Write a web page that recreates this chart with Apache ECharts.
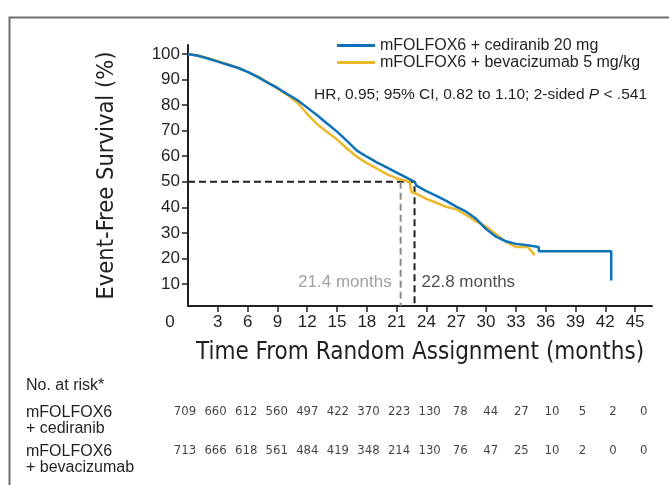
<!DOCTYPE html>
<html>
<head>
<meta charset="utf-8">
<script src="https://cdn.jsdelivr.net/npm/echarts@6/dist/echarts.min.js"></script>
<style>
html, body { margin: 0; padding: 0; background: #fff; }
#main { width: 669px; height: 485px; }
</style>
</head>
<body>
<div id="main"></div>
<script>
// 刻度
const xTicks = [3, 6, 9, 12, 15, 18, 21, 24, 27, 30, 33, 36, 39, 42, 45]
const yTicks = [10, 20, 30, 40, 50, 60, 70, 80, 90, 100]

// 风险人数表
const riskMonths = [0, 3, 6, 9, 12, 15, 18, 21, 24, 27, 30, 33, 36, 39, 42, 45]
const riskCed = [709, 660, 612, 560, 497, 422, 370, 223, 130, 78, 44, 27, 10, 5, 2, 0]
const riskBev = [713, 666, 618, 561, 484, 419, 348, 214, 130, 76, 47, 25, 10, 2, 0, 0]

// 生存曲线
const cedMonths = [0, 1, 2, 3, 4, 5, 6, 7, 8, 9, 10, 11, 12, 13, 14, 15, 16, 17, 18, 19, 20, 21, 22, 22.8, 23, 24, 25, 26, 27, 28, 29, 30, 31, 32, 33, 34, 35.3, 35.3, 42.6, 42.6]
const cedSurv = [100, 99.3, 98.2, 97.0, 95.8, 94.6, 93.0, 91.0, 88.8, 86.7, 84.3, 82.0, 79.0, 76.0, 72.8, 69.6, 66.0, 62.2, 59.8, 57.6, 55.6, 53.6, 51.6, 50.0, 48.5, 46.3, 44.5, 42.5, 40.3, 38.3, 35.5, 31.5, 28.5, 26.7, 25.7, 25.3, 24.5, 22.8, 22.8, 11.4]
const bevMonths = [0, 1, 2, 3, 4, 5, 6, 7, 8, 9, 10, 11, 12, 13, 14, 15, 16, 17, 18, 19, 20, 21, 22.3, 22.5, 23, 24, 25, 26, 27, 28, 29, 30, 31, 32, 33, 34.2, 34.9]
const bevSurv = [100, 99.4, 98.3, 97.2, 96.0, 94.6, 93.0, 91.2, 89.0, 86.5, 84.0, 81.0, 76.5, 72.5, 69.5, 66.5, 63.0, 59.8, 57.3, 55.2, 53.0, 51.3, 50.0, 46.0, 45.3, 43.3, 41.8, 40.2, 39.2, 37.0, 34.5, 32.5, 29.5, 26.5, 24.5, 24.5, 21.3]

// 中位数
const medianCed = 22.8
const medianBev = 21.4

const xMin = 0, xMax = 46.7
const yMin = 1.4, yMax = 103.5

const narrow = "'Liberation Sans Narrow', 'DejaVu Sans Condensed', sans-serif"
const regular = "'Liberation Sans', Arial, sans-serif"
const ink = "#231f20"
const blue = "#0E72BA"
const yellow = "#EEB82B"

let myChart = echarts.init(document.getElementById("main"))

myChart.setOption({
  animation: false,
  textStyle: { fontFamily: regular, color: ink },
  title: [
    {
      text: "{a|HR, 0.95; 95% CI, 0.82 to 1.10; 2-sided }{i|P}{a| < .541}",
      left: 314,
      top: 87,
      padding: 0,
      textStyle: {
        fontWeight: "normal",
        rich: {
          a: { fontSize: 15.5, color: ink, fontFamily: regular, fontWeight: "normal" },
          i: { fontSize: 15.5, color: ink, fontFamily: regular, fontWeight: "normal", fontStyle: "italic" },
        },
      },
    },
    {
      text: "No. at risk*",
      left: 26,
      top: 378,
      padding: 0,
      textStyle: { fontSize: 16, fontWeight: "normal", color: ink, fontFamily: regular },
    },
  ],
  legend: {
    data: ["mFOLFOX6 + cediranib 20 mg", "mFOLFOX6 + bevacizumab 5 mg/kg"],
    orient: "vertical",
    left: 337,
    top: 37,
    padding: 0,
    itemGap: 0,
    itemWidth: 38,
    itemHeight: 3,
    icon: "rect",
    textStyle: { fontSize: 16, lineHeight: 17, color: ink, fontFamily: regular },
  },
  graphic: [
    {
      type: "polyline",
      shape: { points: [[9.5, 485], [9.5, 17.5], [669, 17.5]] },
      style: { stroke: "#6d6e71", lineWidth: 2, fill: null },
      silent: true,
    },
  ],
  grid: [
    { left: 188, top: 45, width: 464, height: 261, outerBoundsMode: "none", containLabel: false },
    { left: 185, top: 384.5, width: 476, height: 78, outerBoundsMode: "none", containLabel: false },
  ],
  xAxis: [
    {
      type: "value",
      gridIndex: 0,
      min: xMin,
      max: xMax,
      splitLine: { show: false },
      axisLine: { lineStyle: { color: ink, width: 2 } },
      axisTick: { customValues: xTicks, length: 6, lineStyle: { color: ink, width: 1.5 } },
      axisLabel: {
        customValues: [0].concat(xTicks),
        formatter: (v) => (v === 0 ? "{z|0}" : String(v)),
        fontSize: 17,
        color: ink,
        margin: 8,
        fontFamily: regular,
        rich: { z: { fontSize: 17, color: ink, padding: [0, 36, 0, 0] } },
      },
      name: "Time From Random Assignment (months)",
      nameLocation: "middle",
      nameGap: 35,
      nameTextStyle: { fontSize: 24, color: ink, fontFamily: narrow },
    },
    {
      type: "value",
      gridIndex: 1,
      min: xMin,
      max: xMax,
      show: false,
    },
  ],
  yAxis: [
    {
      type: "value",
      gridIndex: 0,
      min: yMin,
      max: yMax,
      splitLine: { show: false },
      axisLine: { show: true, lineStyle: { color: ink, width: 2 } },
      axisTick: { show: true, customValues: yTicks, length: 6, lineStyle: { color: ink, width: 1.5 } },
      axisLabel: { customValues: yTicks, fontSize: 17, color: ink, margin: 8, fontFamily: regular },
      name: "Event-Free Survival (%)",
      nameLocation: "middle",
      nameGap: 69,
      nameTextStyle: { fontSize: 23.5, color: ink, fontFamily: narrow },
    },
    {
      type: "category",
      gridIndex: 1,
      inverse: true,
      data: ["mFOLFOX6\n+ cediranib", "mFOLFOX6\n+ bevacizumab"],
      axisLine: { show: false },
      axisTick: { show: false },
      splitLine: { show: false },
      axisLabel: {
        align: "left",
        verticalAlign: "top",
        margin: 159,
        fontSize: 16,
        lineHeight: 16.5,
        color: ink,
        fontFamily: regular,
      },
    },
  ],
  series: [
    {
      name: "median-line",
      type: "line",
      data: [[xMin, 50], [medianCed, 50], [medianCed, yMin]],
      symbol: "none",
      silent: true,
      lineStyle: { color: "#231f20", width: 2, type: [7, 4] },
      z: 1,
    },
    {
      name: "median-line-bev",
      type: "line",
      data: [[medianBev, 50], [medianBev, yMin]],
      symbol: "none",
      silent: true,
      lineStyle: { color: "#8a8a8a", width: 2, type: [7, 4] },
      z: 1,
    },
    {
      name: "mFOLFOX6 + bevacizumab 5 mg/kg",
      type: "line",
      data: bevMonths.map((m, i) => [m, bevSurv[i]]),
      showSymbol: false,
      symbol: "none",
      itemStyle: { color: yellow },
      lineStyle: { color: yellow, width: 2.5 },
      z: 2,
    },
    {
      name: "mFOLFOX6 + cediranib 20 mg",
      type: "line",
      data: cedMonths.map((m, i) => [m, cedSurv[i]]),
      showSymbol: false,
      symbol: "none",
      itemStyle: { color: blue },
      lineStyle: { color: blue, width: 2.5 },
      z: 3,
    },
    {
      // 中位数标注
      type: "scatter",
      symbolSize: 0,
      silent: true,
      data: [
        { value: [medianBev, 10.8], label: { position: "left", distance: 9, color: "#8a8a8a", formatter: medianBev + " months" } },
        { value: [medianCed, 10.8], label: { position: "right", distance: 7, color: ink, formatter: medianCed + " months" } },
      ],
      label: { show: true, fontSize: 17, fontFamily: regular },
    },
    {
      type: "scatter",
      xAxisIndex: 1,
      yAxisIndex: 1,
      symbolSize: 0,
      silent: true,
      data: riskMonths.map((m, i) => [m, 0, riskCed[i]]),
      label: { show: true, position: "inside", offset: [0, 8], formatter: (p) => String(p.value[2]), fontSize: 13, color: "#111", fontFamily: narrow },
    },
    {
      type: "scatter",
      xAxisIndex: 1,
      yAxisIndex: 1,
      symbolSize: 0,
      silent: true,
      data: riskMonths.map((m, i) => [m, 1, riskBev[i]]),
      label: { show: true, position: "inside", offset: [0, 8], formatter: (p) => String(p.value[2]), fontSize: 13, color: "#111", fontFamily: narrow },
    },
  ],
})
</script>
</body>
</html>
